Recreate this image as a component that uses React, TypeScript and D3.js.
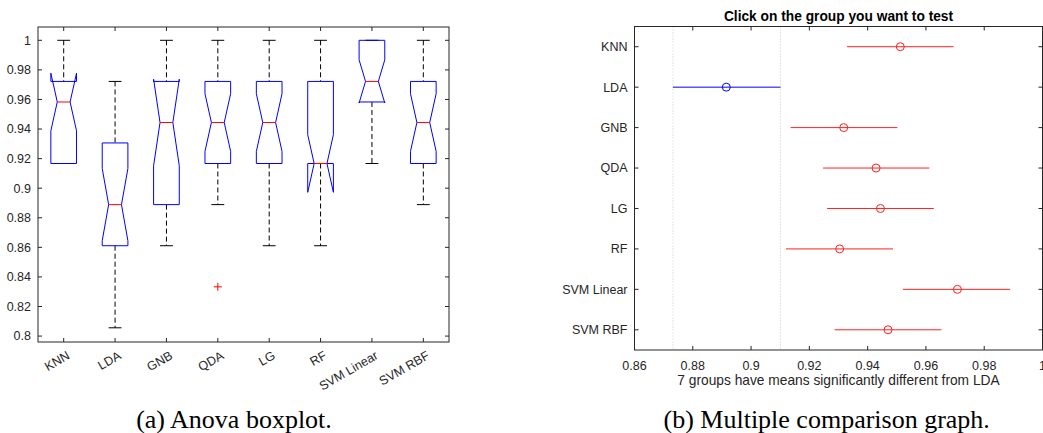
import React from 'react';
import * as d3 from 'd3';

const groups = ['KNN', 'LDA', 'GNB', 'QDA', 'LG', 'RF', 'SVM Linear', 'SVM RBF'];

// boxplot statistics
const whiskerHi = [1, 0.9722, 1, 1, 1, 1, 1, 1];
const q3 = [0.9722, 0.9306, 0.9722, 0.9722, 0.9722, 0.9722, 1, 0.9722];
const medians = [0.9583, 0.8889, 0.9444, 0.9444, 0.9444, 0.9167, 0.9722, 0.9444];
const q1 = [0.9167, 0.8611, 0.8889, 0.9167, 0.9167, 0.9167, 0.9583, 0.9167];
const whiskerLo = [0.9167, 0.8056, 0.8611, 0.8889, 0.8611, 0.8611, 0.9167, 0.8889];
const notchLo = [0.9388, 0.8645, 0.9152, 0.9249, 0.9249, 0.8972, 0.9576, 0.9249];
const notchHi = [0.9778, 0.9133, 0.9737, 0.9639, 0.9639, 0.9362, 0.9868, 0.9639];
const outlierGroups = ['QDA'];
const outlierValues = [0.8333];

// multiple comparison intervals
const means = [0.9512, 0.8915, 0.9318, 0.9429, 0.9444, 0.9304, 0.9708, 0.947];
const ciLo = [0.9329, 0.8732, 0.9136, 0.9247, 0.9261, 0.912, 0.9521, 0.9287];
const ciHi = [0.9695, 0.9101, 0.9502, 0.9612, 0.9627, 0.9487, 0.9889, 0.9653];
const controlGroup = 'LDA';

const boxTicks = [0.8, 0.82, 0.84, 0.86, 0.88, 0.9, 0.92, 0.94, 0.96, 0.98, 1];
const compTicks = [0.86, 0.88, 0.9, 0.92, 0.94, 0.96, 0.98, 1];

const W = 1043;
const H = 433;
const axisColor = '#262626';
const sans = '"Liberation Sans", Arial, Helvetica, sans-serif';
const serif = '"Liberation Serif", "Times New Roman", serif';
const tickSize = 12.5;
const fmt = (v: number) => String(+v.toFixed(2));

function BoxPanel() {
  const left = 38, right = 449, top = 27, bottom = 342;
  const x = d3.scaleLinear().domain([0.5, groups.length + 0.5]).range([left, right]);
  const y = d3.scaleLinear().domain([0.796, 1.009]).range([bottom, top]);
  const hw = x(0.25) - x(0);
  const tl = 4;

  return (
    <g>
      {groups.map((g, i) => {
        const cx = x(i + 1);
        const pts: [number, number][] = [
          [cx - hw, y(q1[i])],
          [cx - hw, y(notchLo[i])],
          [cx - hw / 2, y(medians[i])],
          [cx - hw, y(notchHi[i])],
          [cx - hw, y(q3[i])],
          [cx + hw, y(q3[i])],
          [cx + hw, y(notchHi[i])],
          [cx + hw / 2, y(medians[i])],
          [cx + hw, y(notchLo[i])],
          [cx + hw, y(q1[i])],
        ];
        const line = d3.line();
        return (
          <g key={g}>
            {whiskerHi[i] > q3[i] && (
              <line x1={cx} x2={cx} y1={y(whiskerHi[i])} y2={y(q3[i])} stroke="#000" strokeDasharray="5,3" />
            )}
            {whiskerLo[i] < q1[i] && (
              <line x1={cx} x2={cx} y1={y(q1[i])} y2={y(whiskerLo[i])} stroke="#000" strokeDasharray="5,3" />
            )}
            <line x1={cx - hw / 2} x2={cx + hw / 2} y1={y(whiskerHi[i])} y2={y(whiskerHi[i])} stroke="#000" />
            <line x1={cx - hw / 2} x2={cx + hw / 2} y1={y(whiskerLo[i])} y2={y(whiskerLo[i])} stroke="#000" />
            <path d={line(pts) + 'Z'} fill="none" stroke="#0000ff" />
            <line x1={cx - hw / 2} x2={cx + hw / 2} y1={y(medians[i])} y2={y(medians[i])} stroke="#ff0000" />
          </g>
        );
      })}
      {outlierGroups.map((g, k) => {
        const cx = x(groups.indexOf(g) + 1);
        const cy = y(outlierValues[k]);
        return (
          <g key={'o' + k} stroke="#ff0000">
            <line x1={cx - 4} x2={cx + 4} y1={cy} y2={cy} />
            <line x1={cx} x2={cx} y1={cy - 4} y2={cy + 4} />
          </g>
        );
      })}
      <rect x={left} y={top} width={right - left} height={bottom - top} fill="none" stroke={axisColor} />
      {boxTicks.map((t) => (
        <g key={t}>
          <line x1={left} x2={left + tl} y1={y(t)} y2={y(t)} stroke={axisColor} />
          <line x1={right} x2={right - tl} y1={y(t)} y2={y(t)} stroke={axisColor} />
          <text x={left - 7} y={y(t)} dy="0.35em" textAnchor="end" fontSize={tickSize} fill={axisColor} fontFamily={sans}>
            {fmt(t)}
          </text>
        </g>
      ))}
      {groups.map((g, i) => (
        <g key={'t' + g}>
          <line x1={x(i + 1)} x2={x(i + 1)} y1={bottom} y2={bottom - tl} stroke={axisColor} />
          <line x1={x(i + 1)} x2={x(i + 1)} y1={top} y2={top + tl} stroke={axisColor} />
          <text
            transform={`translate(${x(i + 1) + 7},${bottom + 16}) rotate(-30)`}
            textAnchor="end"
            fontSize={tickSize}
            fill={axisColor}
            fontFamily={sans}
          >
            {g}
          </text>
        </g>
      ))}
      <text x={234} y={428} textAnchor="middle" fontSize={26} fontFamily={serif} fill="#000">
        (a) Anova boxplot.
      </text>
    </g>
  );
}

function ComparisonPanel() {
  const left = 634.5, right = 1042.5, top = 26.5, bottom = 350;
  const x = d3.scaleLinear().domain([0.86, 1]).range([left, right]);
  const y = d3.scaleLinear().domain([0.5, groups.length + 0.5]).range([top, bottom]);
  const tl = 4;
  const ci = groups.indexOf(controlGroup);

  return (
    <g>
      {[ciLo[ci], ciHi[ci]].map((v, k) => (
        <line key={'g' + k} x1={x(v)} x2={x(v)} y1={top} y2={bottom} stroke="#c8c8c8" strokeDasharray="1,2" />
      ))}
      {groups.map((g, i) => {
        const col = g === controlGroup ? '#0000ff' : '#ff2020';
        return (
          <g key={g}>
            <line x1={x(ciLo[i])} x2={x(ciHi[i])} y1={y(i + 1)} y2={y(i + 1)} stroke={col} />
            <circle cx={x(means[i])} cy={y(i + 1)} r={4} fill="none" stroke={col} />
          </g>
        );
      })}
      <rect x={left} y={top} width={right - left} height={bottom - top} fill="none" stroke={axisColor} />
      {compTicks.map((t) => (
        <g key={t}>
          <line x1={x(t)} x2={x(t)} y1={bottom} y2={bottom - tl} stroke={axisColor} />
          <line x1={x(t)} x2={x(t)} y1={top} y2={top + tl} stroke={axisColor} />
          <text x={x(t)} y={370} textAnchor="middle" fontSize={tickSize} fill={axisColor} fontFamily={sans}>
            {fmt(t)}
          </text>
        </g>
      ))}
      {groups.map((g, i) => (
        <g key={'t' + g}>
          <line x1={left} x2={left + tl} y1={y(i + 1)} y2={y(i + 1)} stroke={axisColor} />
          <line x1={right} x2={right - tl} y1={y(i + 1)} y2={y(i + 1)} stroke={axisColor} />
          <text x={left - 7} y={y(i + 1)} dy="0.35em" textAnchor="end" fontSize={tickSize} fill={axisColor} fontFamily={sans}>
            {g}
          </text>
        </g>
      ))}
      <text x={(left + right) / 2} y={20.5} textAnchor="middle" fontSize={13.75} fontWeight="bold" fill="#000" fontFamily={sans}>
        Click on the group you want to test
      </text>
      <text x={(left + right) / 2} y={385} textAnchor="middle" fontSize={13.75} fill={axisColor} fontFamily={sans}>
        7 groups have means significantly different from LDA
      </text>
      <text x={826.7} y={428} textAnchor="middle" fontSize={26} fontFamily={serif} fill="#000">
        (b) Multiple comparison graph.
      </text>
    </g>
  );
}

export default function App() {
  return (
    <svg
      width={W}
      height={H}
      style={{ position: 'absolute', left: 0, top: 0, background: '#fff' }}
    >
      <BoxPanel />
      <ComparisonPanel />
    </svg>
  );
}
